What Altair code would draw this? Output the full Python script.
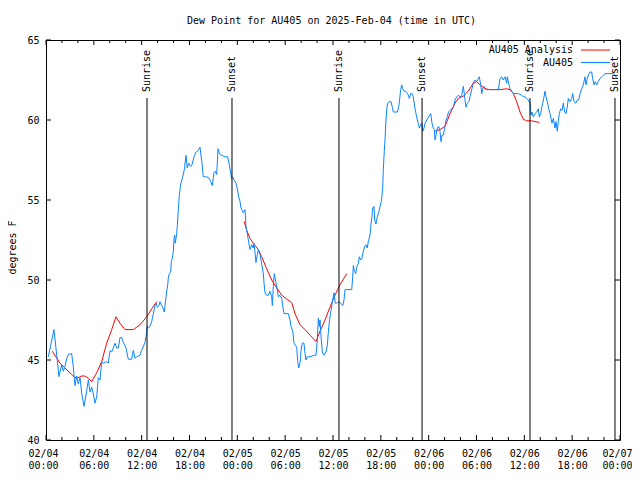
import altair as alt
import pandas as pd

# ---------------- data (hours since 2025-02-04 00:00 UTC, dew point degF) ----------------
obs_hours = [0.29, 1.00, 1.63, 1.97, 2.17, 2.38, 2.60, 2.80, 3.22, 3.42, 3.64, 3.85, 4.05, 4.27, 4.48,
             4.77, 5.11, 5.31, 5.52, 5.73, 5.93, 6.15, 6.36, 6.56, 6.77, 6.99, 7.19, 7.61, 7.81, 8.03,
             8.24, 8.44, 8.66, 8.87, 9.07, 9.28, 9.50, 9.70, 10.04, 10.32, 10.75, 10.95, 11.16, 11.38,
             11.79, 12.00, 12.42, 12.54, 12.71, 12.83, 13.05, 13.26, 13.67, 13.80, 13.96, 14.17, 14.30,
             14.51, 14.71, 14.84, 15.01, 15.14, 15.27, 15.34, 15.47, 15.64, 15.72, 15.84, 15.97, 16.06,
             16.14, 16.22, 16.31, 16.39, 16.47, 16.60, 16.72, 16.90, 17.15, 17.35, 17.56, 17.72, 17.90,
             18.15, 18.31, 18.57, 18.82, 19.10, 19.32, 19.41, 19.57, 19.73, 20.16, 20.48, 20.66, 20.86,
             21.07, 21.24, 21.41, 21.58, 21.74, 22.04, 22.45, 22.79, 22.96, 23.17, 23.27, 23.42, 23.58,
             23.83, 24.00, 24.17, 24.34, 24.46, 24.75, 24.96, 25.09, 25.25, 25.38, 25.59, 25.80, 26.00,
             26.09, 26.22, 26.34, 26.51, 26.63, 26.84, 27.06, 27.26, 27.35, 27.47, 27.68, 27.89, 28.10,
             28.31, 28.39, 28.51, 28.64, 28.81, 29.01, 29.14, 29.35, 29.57, 29.69, 29.85, 30.39, 30.61,
             30.73, 30.95, 31.11, 31.23, 31.45, 31.57, 31.70, 31.86, 31.99, 32.15, 32.36, 32.49, 32.61,
             32.78, 33.12, 33.66, 33.87, 34.03, 34.16, 34.28, 34.37, 34.50, 34.66, 34.87, 35.12, 35.29,
             35.41, 35.54, 35.75, 35.96, 36.13, 36.29, 36.47, 36.67, 36.97, 37.22, 37.38, 37.51, 37.72,
             38.35, 38.47, 38.55, 38.67, 38.85, 38.97, 39.18, 39.30, 39.48, 39.64, 39.80, 39.98, 40.14,
             40.30, 40.43, 40.64, 40.77, 40.89, 40.98, 41.14, 41.23, 41.39, 41.56, 41.73, 41.90, 42.06,
             42.15, 42.24, 42.31, 42.44, 42.52, 42.65, 42.77, 42.86, 43.06, 43.28, 43.44, 43.57, 44.07,
             44.24, 44.37, 44.49, 44.62, 44.74, 44.91, 45.12, 45.37, 45.50, 45.57, 45.75, 45.91, 46.07,
             46.25, 46.41, 46.58, 46.75, 46.83, 47.00, 47.13, 47.25, 47.42, 47.54, 47.76, 48.01, 48.26,
             48.42, 48.58, 48.71, 48.80, 48.92, 49.08, 49.26, 49.42, 49.55, 49.67, 49.84, 50.05, 50.18,
             50.34, 50.49, 50.68, 50.89, 51.09, 51.31, 51.52, 51.72, 51.93, 52.15, 52.35, 52.47, 52.56,
             52.69, 52.85, 53.06, 53.19, 53.40, 53.60, 53.81, 54.03, 54.23, 54.35, 54.53, 54.66, 54.78,
             54.94, 55.19, 56.74, 56.95, 57.16, 57.36, 57.58, 57.79, 57.86, 57.99, 58.20, 58.42, 58.62,
             59.25, 59.46, 59.67, 59.87, 60.09, 60.30, 60.50, 60.71, 60.84, 60.96, 61.13, 61.34, 61.55,
             61.75, 61.88, 62.06, 62.18, 62.31, 62.47, 62.59, 62.72, 62.88, 63.06, 63.22, 63.35, 63.47,
             63.64, 63.85, 63.97, 64.14, 64.26, 64.39, 64.56, 64.73, 64.89, 65.07, 65.23, 65.39, 65.52,
             65.73, 65.94, 66.07, 66.23, 66.44, 66.65, 66.82, 66.99, 67.20, 67.40, 67.61, 67.74, 67.90,
             68.11, 68.24, 68.45, 68.57, 68.74, 68.90, 69.08, 69.28, 69.49, 69.71, 69.91, 70.12, 71.17,
             71.38, 71.59, 71.75]
obs_dewpt = [45.2, 46.9, 43.96, 44.7, 44.3, 44.6, 45.1, 45.35, 45.4, 44.6, 43.4, 44.0, 43.5, 43.9, 42.9,
             42.1, 43.1, 43.75, 43.0, 43.3, 42.9, 42.3, 42.7, 43.9, 43.75, 44.9, 44.8, 44.9, 44.8, 45.6,
             45.5, 45.75, 46.05, 45.75, 45.75, 46.4, 46.4, 46.1, 45.75, 45.05, 45.05, 45.6, 45.1, 45.2,
             45.3, 45.6, 46.1, 46.45, 47.1, 47.0, 47.1, 47.4, 48.4, 48.55, 48.3, 48.4, 48.65,
             48.4, 48.2, 48.0, 48.75, 49.3, 49.7, 50.1, 50.4, 50.5, 51.15, 51.35, 51.8, 52.6,
             52.8, 52.3, 52.6, 52.9, 53.4, 54.4, 55.3, 56.0, 56.45, 56.9, 57.8, 57.0, 57.3,
             57.1, 57.2, 57.7, 58.0, 58.1, 58.3, 57.9, 57.3, 56.45, 56.45, 56.35, 56.15, 55.9,
             56.7, 56.8, 56.6, 58.2, 57.9, 57.8, 57.7, 57.7, 57.3, 56.7, 56.35, 56.45, 56.25,
             56.05, 55.7, 55.2, 54.9, 54.5, 54.2, 54.4, 53.3, 52.9, 52.5, 51.9, 52.2, 52.0,
             52.3, 51.7, 51.1, 51.6, 51.9, 51.6, 51.0, 50.4, 49.8, 49.2, 49.05, 49.05, 49.3,
             48.95, 48.4, 49.6, 50.4, 49.9, 49.4, 48.95, 49.05, 48.85, 48.4, 47.9, 47.9, 47.5,
             47.1, 46.8, 46.05, 45.95, 45.8, 44.9, 44.5, 44.8, 45.6, 46.05, 46.05, 45.4, 45.0,
             45.2, 45.2, 45.3, 45.3, 46.25, 47.6, 47.1, 47.5, 46.45, 45.5, 45.3, 45.5, 45.9,
             46.7, 47.4, 48.1, 48.75, 49.2, 48.55, 48.55, 48.65, 48.55, 48.4, 48.75, 49.4, 49.4,
             49.4, 50.2, 50.9, 50.6, 50.4, 50.8, 51.05, 51.45, 51.25, 51.35, 51.8, 52.1, 52.2,
             52.0, 52.4, 52.8, 53.5, 53.95, 54.5, 54.6, 53.75, 53.5, 53.95, 54.2, 54.6, 54.9,
             55.3, 55.8, 56.9, 58.1, 58.75, 60.0, 60.8, 61.05, 61.15, 61.15, 60.8, 60.5, 60.5,
             60.8, 61.35, 61.9, 62.2, 61.95, 61.8, 61.8, 61.65, 61.45, 61.35, 61.65, 61.65, 61.45,
             60.8, 60.4, 60.0, 59.7, 59.5, 59.7, 59.8, 59.3, 59.5, 59.8, 60.0, 60.2, 60.4,
             59.8, 59.5, 59.4, 58.75, 59.05, 59.5, 59.6, 59.3, 58.65, 59.05, 59.05, 59.6, 60.0,
             60.2, 60.5, 60.6, 60.7, 60.8, 61.25, 61.45, 61.55, 61.45, 61.55, 62.1, 61.65, 61.25,
             60.8, 61.05, 61.15, 61.45, 61.9, 62.3, 62.5, 62.4, 62.6, 62.7, 62.2, 61.65, 61.95,
             62.1, 61.9, 61.9, 62.6, 62.7, 62.5, 62.7, 62.3, 62.7, 62.4, 61.95, 61.8, 61.65,
             61.65, 61.6, 61.55, 61.45, 61.45, 61.35, 61.25, 61.05, 60.3, 60.5, 60.2, 60.4, 60.5,
             60.7, 60.2, 60.4, 60.8, 61.05, 61.45, 61.8, 61.45, 61.15, 60.7, 60.4, 60.1, 59.8,
             60.1, 59.5, 59.9, 59.3, 59.9, 60.4, 60.7, 60.6, 61.05, 60.5, 60.4, 60.8, 61.35,
             61.15, 61.35, 61.65, 61.15, 61.05, 61.25, 61.25, 61.65, 61.95, 62.2, 62.7, 62.2, 62.6,
             62.9, 63.0, 63.0, 62.6, 62.2, 62.4, 62.2, 62.4, 62.6, 62.7, 62.8, 62.9, 62.9,
             62.8, 62.6, 62.6]

ana_hours = [0.79, 1.76, 2.38, 3.42, 3.85, 4.48, 4.89, 5.31, 5.73, 6.36, 6.99, 7.61, 8.24, 8.78, 9.28,
             9.91, 10.54, 10.95, 11.79, 12.63, 13.26, 13.89,
             24.87, 25.18, 25.59, 26.00, 26.63, 27.06, 27.68, 28.31, 28.94, 29.57, 30.19, 30.82, 31.23,
             31.86, 32.49, 33.12, 33.87, 34.37, 35.00, 35.62, 36.25, 36.88, 37.72,
             48.80, 49.42, 50.05, 50.68, 51.31, 51.72, 52.35, 52.97, 53.60, 54.03, 54.44, 55.07, 55.70,
             56.95, 57.79, 58.20, 58.62, 59.04, 59.46, 59.87, 60.30, 60.93, 61.34, 61.88]
ana_dewpt = [45.55, 44.8, 44.5, 44.0, 43.85, 44.0, 44.0, 43.85, 43.65, 44.2, 44.9, 46.05, 46.9, 47.7, 47.3,
             46.9, 46.9, 46.9, 47.2, 47.7, 48.2, 48.65,
             53.65, 53.1, 52.6, 52.3, 51.9, 51.45, 50.7, 50.0, 49.5, 49.05, 48.8, 48.6, 47.9,
             47.2, 46.9, 46.55, 46.15, 46.8, 47.5, 48.3, 49.05, 49.7, 50.4,
             59.3, 59.4, 59.6, 60.4, 61.05, 61.35, 61.5, 61.8, 62.3, 62.4, 62.2, 61.95, 61.9,
             61.9, 61.95, 61.9, 61.65, 61.15, 60.5, 60.05, 59.95, 59.95, 59.9, 59.85]
ana_segment = [1] * 22 + [2] * 23 + [3] * 24

event_hours = [12.67, 23.33, 36.75, 47.17, 60.71, 71.37]
event_labels = ["Sunrise", "Sunset", "Sunrise", "Sunset", "Sunrise", "Sunset"]

x_major_ticks = list(range(0, 73, 6))
x_minor_ticks = [h for h in range(0, 73, 2) if h % 6 != 0]
y_ticks = [40, 45, 50, 55, 60, 65]

title_text = ["Dew Point for AU405 on 2025-Feb-04 (time in UTC)"]
legend_labels = ["AU405 Analysis", "AU405"]
RED = "#ff0000"
BLUE = "#0a84ff"
FONT = "DejaVu Sans Mono"
W, H = 574, 400

obs = pd.DataFrame({"h": obs_hours, "v": obs_dewpt})
ana = pd.DataFrame({"h": ana_hours, "v": ana_dewpt, "seg": ana_segment})
events = pd.DataFrame({"h": event_hours, "label": event_labels})
xmaj = pd.DataFrame({"h": x_major_ticks})
xmin = pd.DataFrame({"h": x_minor_ticks})
yt = pd.DataFrame({"v": y_ticks})
leg_red = pd.DataFrame({"label": [legend_labels[0]]})
leg_blue = pd.DataFrame({"label": [legend_labels[1]]})
ttl = pd.DataFrame({"label": title_text})

xscale = alt.Scale(domain=[0, 72], nice=False, zero=False)
yscale = alt.Scale(domain=[40, 65], nice=False, zero=False)

label_expr = ("['02/0' + (4 + floor(datum.value / 24)), "
              "(datum.value % 24 < 10 ? '0' : '') + (datum.value % 24) + ':00']")

x_axis = alt.Axis(values=x_major_ticks, labelExpr=label_expr, tickSize=0, domain=False, grid=False,
                  labelFont=FONT, labelFontSize=10, labelColor="black", labelPadding=8,
                  labelLineHeight=12.5, labelOverlap=False, labelFlush=False, title=None,
                  labelOffset={"condition": {"test": "datum.value == 0 || datum.value == 72",
                                             "value": -3}, "value": 0})
y_axis = alt.Axis(values=y_ticks, tickSize=0, domain=False, grid=False, labelFont=FONT,
                  labelFontSize=10, labelColor="black", labelPadding=7, title="degrees F",
                  titleFont=FONT, titleFontSize=10, titleFontWeight="normal", titleColor="black",
                  titleX=-34, titleY=207, titleAlign="center", titleBaseline="middle", titleAngle=270)

Y = alt.Y("v:Q", scale=yscale, axis=y_axis)

ana_line = alt.Chart(ana).mark_line(color=RED, strokeWidth=1).encode(
    x=alt.X("h:Q", scale=xscale, axis=x_axis), y=Y, detail="seg:N", order="h:Q")
obs_line = alt.Chart(obs).mark_line(color=BLUE, strokeWidth=1).encode(
    x=alt.X("h:Q", scale=xscale), y=alt.Y("v:Q", scale=yscale), order="h:Q")

ev_rule = alt.Chart(events).mark_rule(color="black", strokeWidth=1).encode(
    x=alt.X("h:Q", scale=xscale), y=alt.value(58), y2=alt.value(H))
ev_text = alt.Chart(events).mark_text(angle=270, align="left", baseline="middle", font=FONT,
                                      fontSize=10, color="black").encode(
    x=alt.X("h:Q", scale=xscale), y=alt.value(52), text="label:N")

tick_b_maj = alt.Chart(xmaj).mark_rule(color="black").encode(
    x=alt.X("h:Q", scale=xscale), y=alt.value(H), y2=alt.value(H - 5))
tick_t_maj = alt.Chart(xmaj).mark_rule(color="black").encode(
    x=alt.X("h:Q", scale=xscale), y=alt.value(0), y2=alt.value(5))
tick_b_min = alt.Chart(xmin).mark_rule(color="black").encode(
    x=alt.X("h:Q", scale=xscale), y=alt.value(H), y2=alt.value(H - 3))
tick_t_min = alt.Chart(xmin).mark_rule(color="black").encode(
    x=alt.X("h:Q", scale=xscale), y=alt.value(0), y2=alt.value(3))
tick_l = alt.Chart(yt).mark_rule(color="black").encode(
    y=alt.Y("v:Q", scale=yscale), x=alt.value(0), x2=alt.value(5))
tick_r = alt.Chart(yt).mark_rule(color="black").encode(
    y=alt.Y("v:Q", scale=yscale), x=alt.value(W), x2=alt.value(W - 5))

leg_t1 = alt.Chart(leg_red).mark_text(align="right", baseline="middle", font=FONT, fontSize=10,
                                      color="black").encode(
    x=alt.value(527), y=alt.value(10), text="label:N")
leg_l1 = alt.Chart(leg_red).mark_rule(color=RED, strokeWidth=1).encode(
    x=alt.value(535), x2=alt.value(564), y=alt.value(10))
leg_t2 = alt.Chart(leg_blue).mark_text(align="right", baseline="middle", font=FONT, fontSize=10,
                                       color="black").encode(
    x=alt.value(527), y=alt.value(23), text="label:N")
leg_l2 = alt.Chart(leg_blue).mark_rule(color=BLUE, strokeWidth=1).encode(
    x=alt.value(535), x2=alt.value(564), y=alt.value(22.5))

title_mark = alt.Chart(ttl).mark_text(align="center", baseline="alphabetic", font=FONT, fontSize=10,
                                      color="black").encode(
    x=alt.value(285.5), y=alt.value(-16), text="label:N")

chart = alt.layer(
    ana_line, obs_line, ev_rule, ev_text,
    tick_b_maj, tick_t_maj, tick_b_min, tick_t_min, tick_l, tick_r,
    leg_t1, leg_l1, leg_t2, leg_l2, title_mark,
).properties(
    width=W, height=H,
    autosize=alt.AutoSizeParams(type="none"),
    padding={"left": 38, "top": 32, "right": 12, "bottom": 32},
    background="white",
).configure_view(stroke="black", strokeWidth=1)

chart.save("out.html", embed_options={"renderer": "svg", "actions": False})
